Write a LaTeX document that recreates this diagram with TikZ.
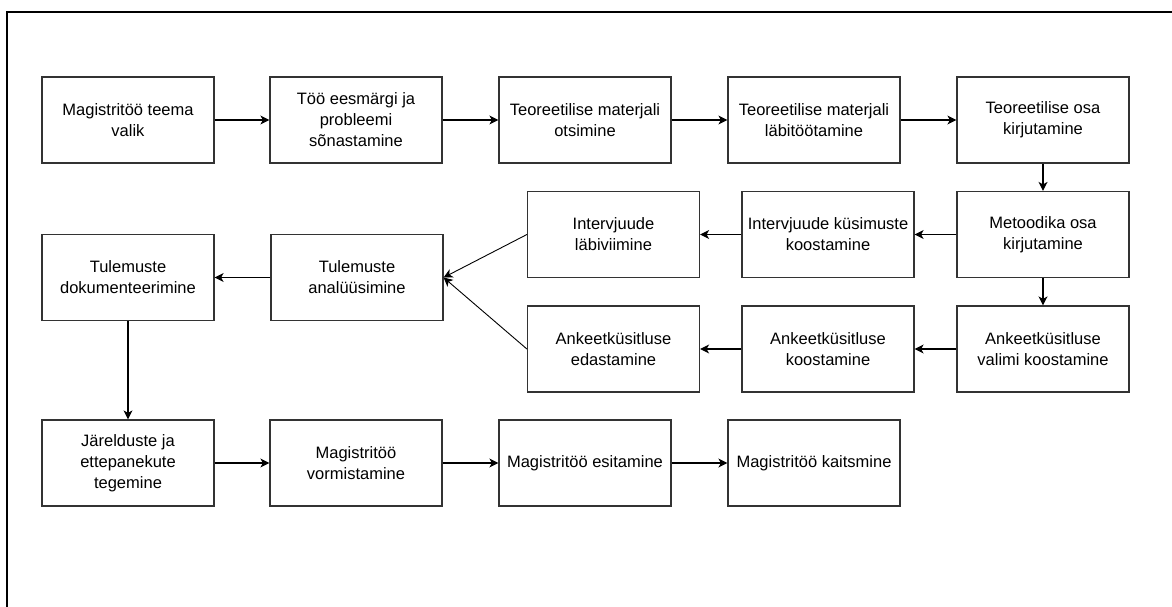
\documentclass[tikz,border=0pt]{standalone}
\usepackage{fontspec}
\setmainfont{Liberation Sans}
\usetikzlibrary{arrows.meta}
\begin{document}
\begin{tikzpicture}[x=1pt, y=-1pt,
  box/.style={draw=black!80, line width=1.2pt, minimum width=172pt, minimum height=86pt,
    align=center, inner sep=2pt, font=\fontsize{16.5}{21}\selectfont},
  arr/.style={-{Stealth[length=9pt, width=9pt, inset=2.5pt]}, line width=1.2pt}]
\useasboundingbox (0,0) rectangle (1172,606);
\draw[line width=2pt] (7,612) -- (7,12) -- (1180,12);
% first row
\node[box] (mteema) at (128,120) {Magistritöö teema\\valik};
\node[box] (eesmark) at (356,120) {Töö eesmärgi ja\\probleemi\\sõnastamine};
\node[box] (otsimine) at (585,120) {Teoreetilise materjali\\otsimine};
\node[box] (labitoo) at (814,120) {Teoreetilise materjali\\läbitöötamine};
\node[box] (teoosa) at (1043,120) {Teoreetilise osa\\kirjutamine};
% methods
\node[box] (metoodika) at (1043,234.5) {Metoodika osa\\kirjutamine};
\node[box] (intkys) at (828,234.5) {Intervjuude küsimuste\\koostamine};
\node[box] (intlabi) at (613.5,234.5) {Intervjuude\\läbiviimine};
\node[box] (ankvalim) at (1043,349) {Ankeetküsitluse\\valimi koostamine};
\node[box] (ankkoos) at (828,349) {Ankeetküsitluse\\koostamine};
\node[box] (ankedas) at (613.5,349) {Ankeetküsitluse\\edastamine};
% results
\node[box] (tulanal) at (357,277.5) {Tulemuste\\analüüsimine};
\node[box] (tuldok) at (128,277.5) {Tulemuste\\dokumenteerimine};
% last row
\node[box] (jareld) at (128,463) {Järelduste ja\\ettepanekute\\tegemine};
\node[box] (vormist) at (356,463) {Magistritöö\\vormistamine};
\node[box] (esit) at (585,463) {Magistritöö esitamine};
\node[box] (kaitsm) at (814,463) {Magistritöö kaitsmine};
% connectors
\draw[arr] (mteema) -- (eesmark);
\draw[arr] (eesmark) -- (otsimine);
\draw[arr] (otsimine) -- (labitoo);
\draw[arr] (labitoo) -- (teoosa);
\draw[arr] (teoosa) -- (metoodika);
\draw[arr] (metoodika) -- (intkys);
\draw[arr] (intkys) -- (intlabi);
\draw[arr] (metoodika) -- (ankvalim);
\draw[arr] (ankvalim) -- (ankkoos);
\draw[arr] (ankkoos) -- (ankedas);
\draw[arr, line width=0.9pt] (intlabi.west) -- (tulanal.east);
\draw[arr, line width=0.9pt] (ankedas.west) -- (tulanal.east);
\draw[arr] (tulanal) -- (tuldok);
\draw[arr] (tuldok) -- (jareld);
\draw[arr] (jareld) -- (vormist);
\draw[arr] (vormist) -- (esit);
\draw[arr] (esit) -- (kaitsm);
\end{tikzpicture}
\end{document}
